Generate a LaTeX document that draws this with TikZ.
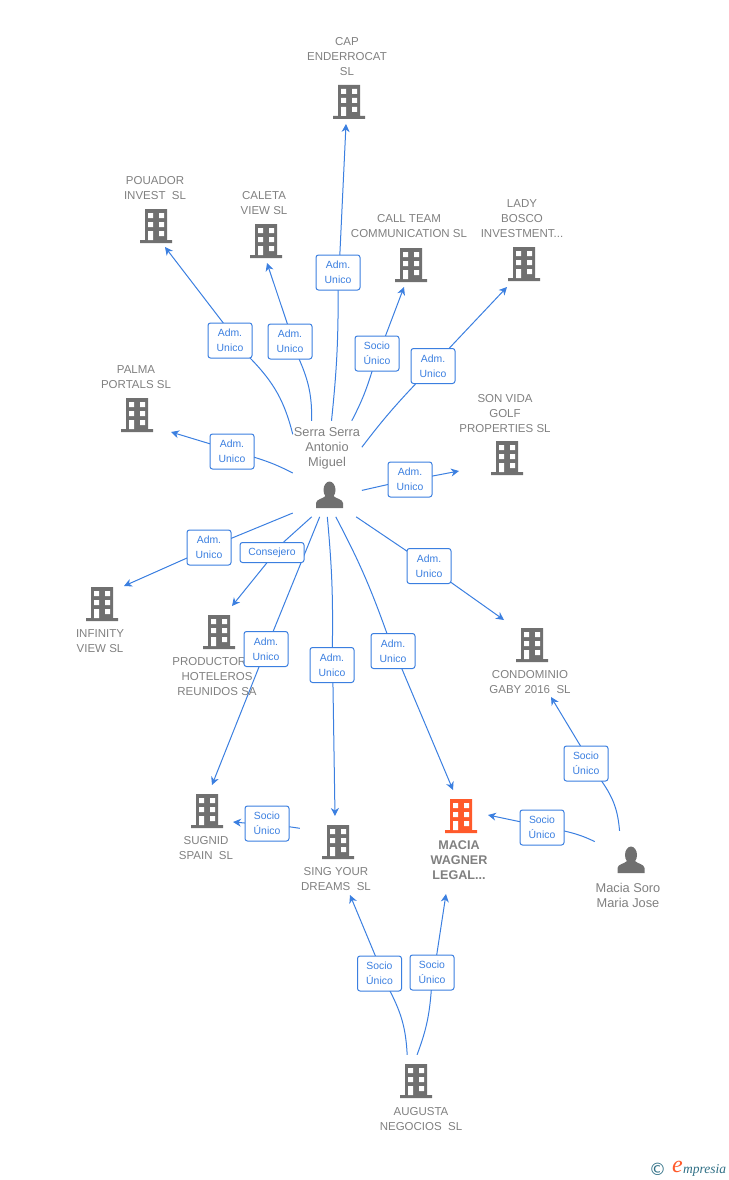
\documentclass[tikz,border=0pt]{standalone}
\usepackage{fontspec}
\setmainfont{Liberation Sans}
\newfontfamily\logofont{Liberation Serif}
\newfontfamily\symbfont{DejaVu Sans}
\usetikzlibrary{arrows.meta,backgrounds}
\definecolor{linkblue}{HTML}{3B7FE0}
\definecolor{textgray}{HTML}{808080}
\definecolor{icongray}{HTML}{707070}
\definecolor{iconorange}{HTML}{FF5A2B}
\definecolor{logoteal}{HTML}{2F6F85}
\tikzstyle{firmtext} = [text=textgray,align=center,inner sep=0pt,yshift=-1pt,font=\fontsize{11.5}{15}\selectfont]
\tikzstyle{persontext} = [firmtext,font=\fontsize{12.8}{15}\selectfont]
\tikzstyle{link} = [linkblue,line width=1pt,-{Stealth[length=8pt,width=8pt,inset=2.5pt]}]
\tikzstyle{role} = [draw=linkblue,fill=white,text=linkblue,line width=1pt,rounded corners=2.5pt,align=center,minimum width=44pt,minimum height=35pt,inner xsep=3pt,inner ysep=1pt,font=\fontsize{10.4}{15}\selectfont]
\tikzstyle{hub} = [inner sep=0pt]
\tikzset{
	building/.pic={
		\fill[pic actions] (-11,-17) rectangle (11,14) (-16,14) rectangle (16,17);
		\fill[white] (-8,-13) rectangle (-3,-8) (3,-13) rectangle (8,-8);
		\fill[white] (-8,-4) rectangle (-3,1) (3,-4) rectangle (8,1);
		\fill[white] (3,5) rectangle (8,10) (-8,5) rectangle (-3,14);
	},
	person/.pic={
		\fill[pic actions] (0,-5) ellipse (6 and 8.5);
		\fill[pic actions] (-13.5,13) -- (-13.5,8) .. controls (-13,4) and (-7,4) .. (-4,1) -- (4,1) .. controls (7,4) and (13,4) .. (13.5,8) -- (13.5,13) -- cycle;
	}
}
% name, icon x, icon y, text x, text y, text
\newcommand{\firm}[6]{
	\pic[fill=icongray] at (#2,#3) {building};
	\node[firmtext] (#1) at (#4,#5) {#6};
}
% number, from, bend, role x, role y, tip x, tip y, text
\newcommand{\rolelink}[9][]{
	\node[role,#1] (role#2) at (#5,#6) {#9};
	\coordinate (tip#2) at (#7,#8);
	\begin{scope}[on background layer]
	\draw[link] (#3) to[bend left=#4] (role#2) -- (tip#2);
	\end{scope}
}

\begin{document}
\begin{tikzpicture}[x=1pt,y=-1pt]
\useasboundingbox (0,0) rectangle (728,1180);
% firms: icon and name
\firm{cap}{349}{102}{347}{56}{CAP\\ENDERROCAT\\SL}
\firm{pouador}{156}{226}{155}{187.5}{POUADOR\\INVEST~~SL}
\firm{caleta}{266}{241}{264}{202.5}{CALETA\\VIEW SL}
\firm{callteam}{411}{265}{409}{225.5}{CALL TEAM\\COMMUNICATION SL}
\firm{lady}{524}{264}{522}{218}{LADY\\BOSCO\\INVESTMENT...}
\firm{palma}{137}{415}{136}{376.5}{PALMA\\PORTALS SL}
\firm{sonvida}{507}{458}{505}{413}{SON VIDA\\GOLF\\PROPERTIES SL}
\firm{infinity}{102}{604}{100}{640}{INFINITY\\VIEW SL}
\firm{productores}{219}{632}{217}{676}{PRODUCTORES\\HOTELEROS\\REUNIDOS SA}
\firm{condominio}{532}{645}{530}{681.5}{CONDOMINIO\\GABY 2016~~SL}
\firm{sugnid}{207}{811}{206}{847}{SUGNID\\SPAIN~~SL}
\firm{sing}{338}{842}{336}{878}{SING YOUR\\DREAMS~~SL}
\firm{augusta}{416}{1081}{421}{1118}{AUGUSTA\\NEGOCIOS~~SL}
\pic[fill=iconorange] at (461,816) {building};
\node[firmtext,font=\fontsize{12.6}{15}\selectfont\bfseries] (macia) at (459,859.5) {MACIA\\WAGNER\\LEGAL...};
% people
\pic[fill=icongray] at (329.5,495) {person};
\node[persontext] (serratext) at (327,447) {Serra Serra\\Antonio\\Miguel};
\pic[fill=icongray] at (631,860) {person};
\node[persontext] (sorotext) at (628,894) {Macia Soro\\Maria Jose};
% boxes the connectors leave from
\node[hub,minimum width=68.7pt,minimum height=95.7pt] (serra) at (327.3,468.8) {};
\node[hub,minimum width=67pt,minimum height=84pt] (soro) at (628.5,873) {};
\node[hub,minimum width=72pt,minimum height=90pt] (singbox) at (336,873) {};
\node[hub,minimum width=70pt,minimum height=90pt] (augustabox) at (421,1100) {};
% connectors
\rolelink{1}{serra.85.6}{-3}{338}{272.5}{346}{124}{Adm.\\Unico}
\rolelink{2}{serra.135.4}{-15}{230}{340.5}{165}{247}{Adm.\\Unico}
\rolelink{3}{serra.108.8}{-12}{290}{341.5}{267}{263}{Adm.\\Unico}
\rolelink{4}{serra.63.6}{-5}{377}{353.5}{404}{287}{Socio\\Único}
\rolelink{5}{serra.32.4}{3}{433}{366}{507}{287}{Adm.\\Unico}
\rolelink{6}{serra.-32.8}{0}{410}{479.5}{459}{471}{Adm.\\Unico}
\rolelink{7}{serra.187}{-5}{232}{451.5}{171}{432}{Adm.\\Unico}
\rolelink{8}{serra.-128.4}{0}{209}{547.5}{124}{586}{Adm.\\Unico}
\rolelink[minimum width=64pt,minimum height=20pt]{9}{serra.-108.8}{0}{272}{552.5}{232}{606}{Consejero}
\rolelink{10}{serra.-99.8}{0}{266}{649}{212}{785}{Adm.\\Unico}
\rolelink{11}{serra.-90}{3}{332}{665}{335}{816}{Adm.\\Unico}
\rolelink{12}{serra.-80}{4}{393}{651}{453}{790}{Adm.\\Unico}
\rolelink{13}{serra.-59.3}{0}{429}{566}{504}{620}{Adm.\\Unico}
\rolelink{14}{soro.102.7}{-15}{586}{763.5}{551}{697}{Socio\\Único}
\rolelink{15}{soro.137.2}{-6}{542}{827.5}{488}{815}{Socio\\Único}
\rolelink{16}{singbox.129.3}{0}{267}{823.5}{233}{822}{Socio\\Único}
\rolelink{17}{augustabox.107.3}{-12}{379.5}{973.5}{350}{895}{Socio\\Único}
\rolelink{18}{augustabox.95.1}{-8}{432}{972.5}{446}{894}{Socio\\Único}
% logo
\node[inner sep=0pt,text=logoteal,font=\symbfont\fontsize{17}{17}\selectfont] (copyr) at (657.5,1169) {©};
\node[inner sep=0pt,text=iconorange,font=\logofont\itshape\fontsize{24}{24}\selectfont] (logoe) at (677.5,1167) {e};
\node[inner sep=0pt,text=logoteal,font=\logofont\itshape\fontsize{13.5}{13.5}\selectfont] (logotext) at (704.5,1170) {mpresia};
\end{tikzpicture}
\end{document}
